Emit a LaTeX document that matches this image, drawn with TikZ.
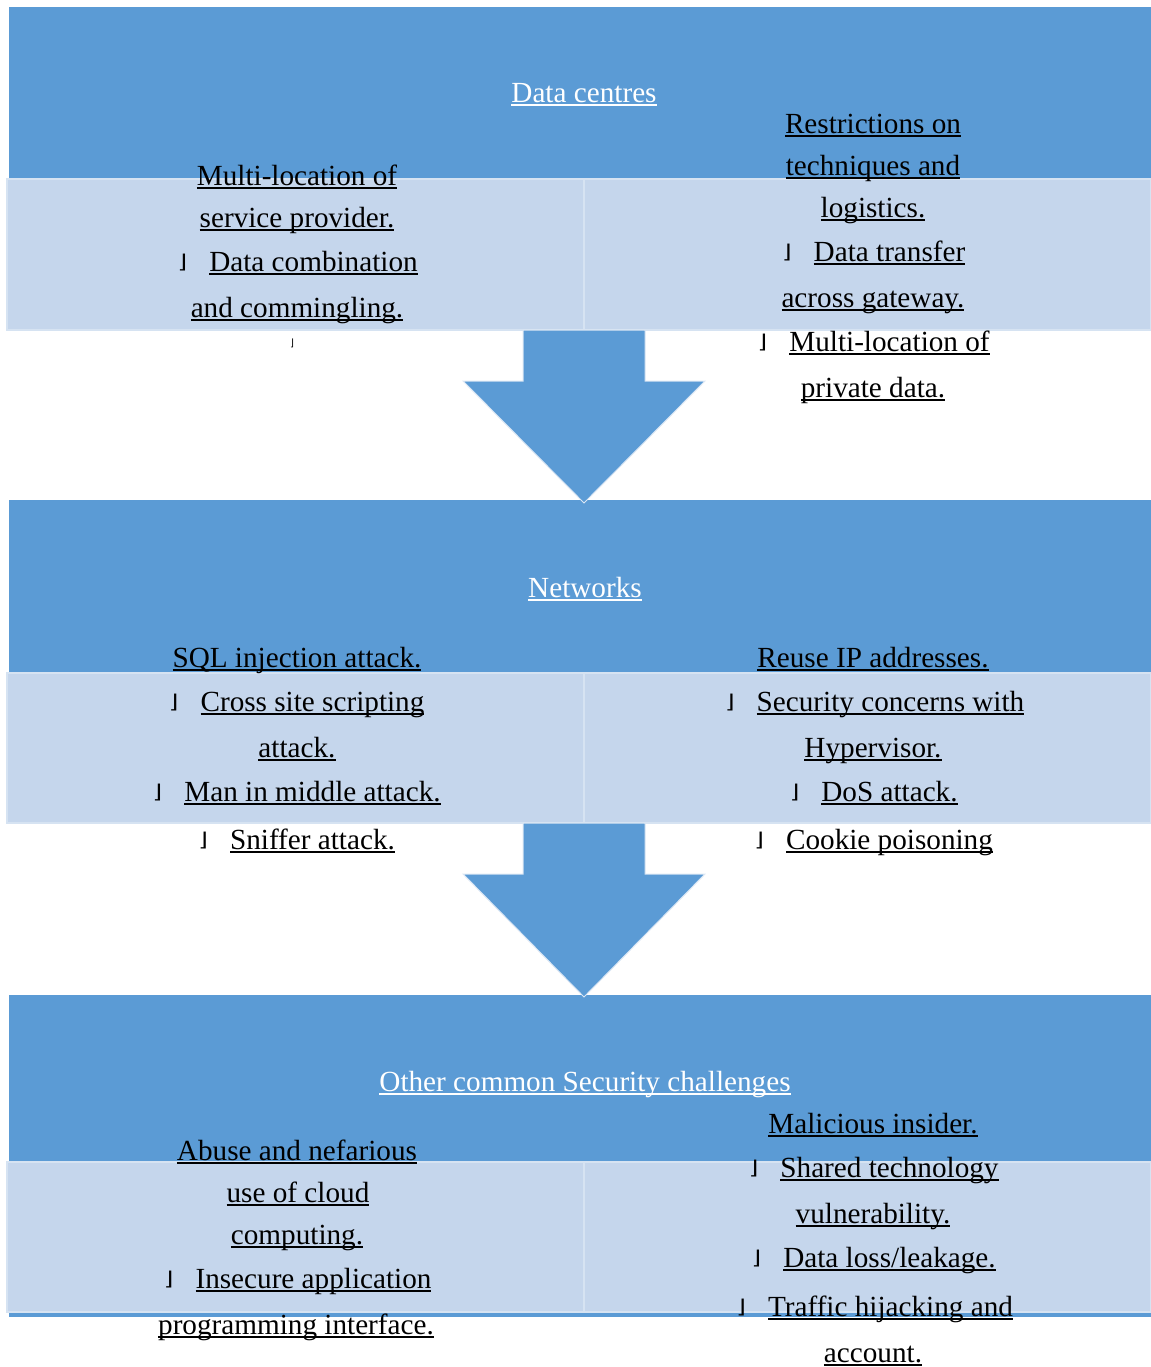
\documentclass[tikz,border=0pt]{standalone}
\usepackage{fontspec}
\setmainfont{Liberation Serif}
\newfontfamily\markfont{DejaVu Sans}
\usetikzlibrary{calc}
\definecolor{barblue}{HTML}{5B9BD5}
\definecolor{bandblue}{HTML}{C5D6EC}
\definecolor{bandrule}{HTML}{D6E3F2}
\definecolor{arrowrim}{HTML}{DCE7F4}
% underline at a fixed depth, running through descenders
\newcommand\uline[1]{\setbox0\hbox{#1}\rlap{\rule[-2.1pt]{\wd0}{0.9pt}}\box0}
% list mark in front of an item
\newcommand\mk{\makebox[4.5pt][r]{\markfont\fontsize{9.5}{10}\selectfont\raisebox{1.1pt}{\scalebox{1.3}[1]{⌋}}}\hspace{11pt}}
% broad downward block arrow from #1 (top of shaft) to #2 (tip)
\newcommand\downblock[2]{%
  \path[bigarrow] let \p1=(#1), \p2=(#2) in
    (\x1-30.5pt,\y1) -- (\x1+30.5pt,\y1) -- (\x1+30.5pt,\y1-25.5pt)
    -- (\x1+60.5pt,\y1-25.5pt) -- (\x2,\y2) -- (\x1-60.5pt,\y1-25.5pt)
    -- (\x1-30.5pt,\y1-25.5pt) -- cycle;}
\begin{document}
\begin{tikzpicture}[x=0.5pt,y=-0.5pt,
  block/.style={fill=barblue, inner sep=0, outer sep=0, anchor=north west, minimum width=571pt},
  cell/.style={fill=bandblue, draw=bandrule, line width=0.8pt},
  item/.style={anchor=base, inner sep=0, font=\fontsize{14.6}{17}\selectfont},
  heading/.style={item, text=white},
  bigarrow/.style={fill=barblue, draw=arrowrim, line width=0.5pt, line join=miter}]

\useasboundingbox (0,0) rectangle (1151,1367);

% three category blocks
\node[block, minimum height=161.5pt] (dc)  at (9,7)   {};
\node[block, minimum height=161.5pt] (net) at (9,500) {};
\node[block, minimum height=161pt]   (oth) at (9,995) {};

% two-cell bands across each block
\draw[cell] (7,179)  rectangle (584,330);
\draw[cell] (584,179) rectangle (1151,330);
\draw[cell] (7,673)  rectangle (584,823);
\draw[cell] (584,673) rectangle (1151,823);
\draw[cell] (7,1162) rectangle (584,1312);
\draw[cell] (584,1162) rectangle (1151,1312);

% arrows between blocks
\coordinate (dcfoot)  at (584,330);
\coordinate (nettip)  at (584,503);
\coordinate (netfoot) at (584,823);
\coordinate (othtip)  at (584,997);
\downblock{dcfoot}{nettip}
\downblock{netfoot}{othtip}

% Data centres
\node[heading] (dcT) at (584,102) {\uline{Data centres}};
\node[item] (dcL1) at (297,185) {\uline{Multi-location of}};
\node[item] (dcL2) at (297,227) {\uline{service provider.}};
\node[item] (dcL3) at (298,271) {\mk\uline{Data combination}};
\node[item] (dcL4) at (297,317) {\uline{and commingling.}};
\node[item] (dcL5) at (292,346) {\markfont\fontsize{5}{6}\selectfont ⌋};
\node[item] (dcR1) at (873,133) {\uline{Restrictions on}};
\node[item] (dcR2) at (873,175) {\uline{techniques and}};
\node[item] (dcR3) at (873,217) {\uline{logistics.}};
\node[item] (dcR4) at (874,261) {\mk\uline{Data transfer}};
\node[item] (dcR5) at (873,307) {\uline{across gateway.}};
\node[item] (dcR6) at (874,351) {\mk\uline{Multi-location of}};
\node[item] (dcR7) at (873,397) {\uline{private data.}};

% Networks
\node[heading] (netT) at (585,597) {\uline{Networks}};
\node[item] (netL1) at (297,667) {\uline{SQL injection attack.}};
\node[item] (netL2) at (297,711) {\mk\uline{Cross site scripting}};
\node[item] (netL3) at (297,757) {\uline{attack.}};
\node[item] (netL4) at (297,801) {\mk\uline{Man in middle attack.}};
\node[item] (netL5) at (297,849) {\mk\uline{Sniffer attack.}};
\node[item] (netR1) at (873,667) {\uline{Reuse IP addresses.}};
\node[item] (netR2) at (875,711) {\mk\uline{Security concerns with}};
\node[item] (netR3) at (873,757) {\uline{Hypervisor.}};
\node[item] (netR4) at (874,801) {\mk\uline{DoS attack.}};
\node[item] (netR5) at (874,849) {\mk\uline{Cookie poisoning}};

% Other common security challenges
\node[heading] (othT) at (585,1091) {\uline{Other common Security challenges}};
\node[item] (othL1) at (297,1160) {\uline{Abuse and nefarious}};
\node[item] (othL2) at (298,1202) {\uline{use of cloud}};
\node[item] (othL3) at (297,1244) {\uline{computing.}};
\node[item] (othL4) at (298,1288) {\mk\uline{Insecure application}};
\node[item] (othL5) at (296,1334) {\uline{programming interface.}};
\node[item] (othR1) at (873,1133) {\uline{Malicious insider.}};
\node[item] (othR2) at (874,1177) {\mk\uline{Shared technology}};
\node[item] (othR3) at (873,1223) {\uline{vulnerability.}};
\node[item] (othR4) at (874,1267) {\mk\uline{Data loss/leakage.}};
\node[item] (othR5) at (875,1316) {\mk\uline{Traffic hijacking and}};
\node[item] (othR6) at (873,1362) {\uline{account.}};
\end{tikzpicture}
\end{document}
